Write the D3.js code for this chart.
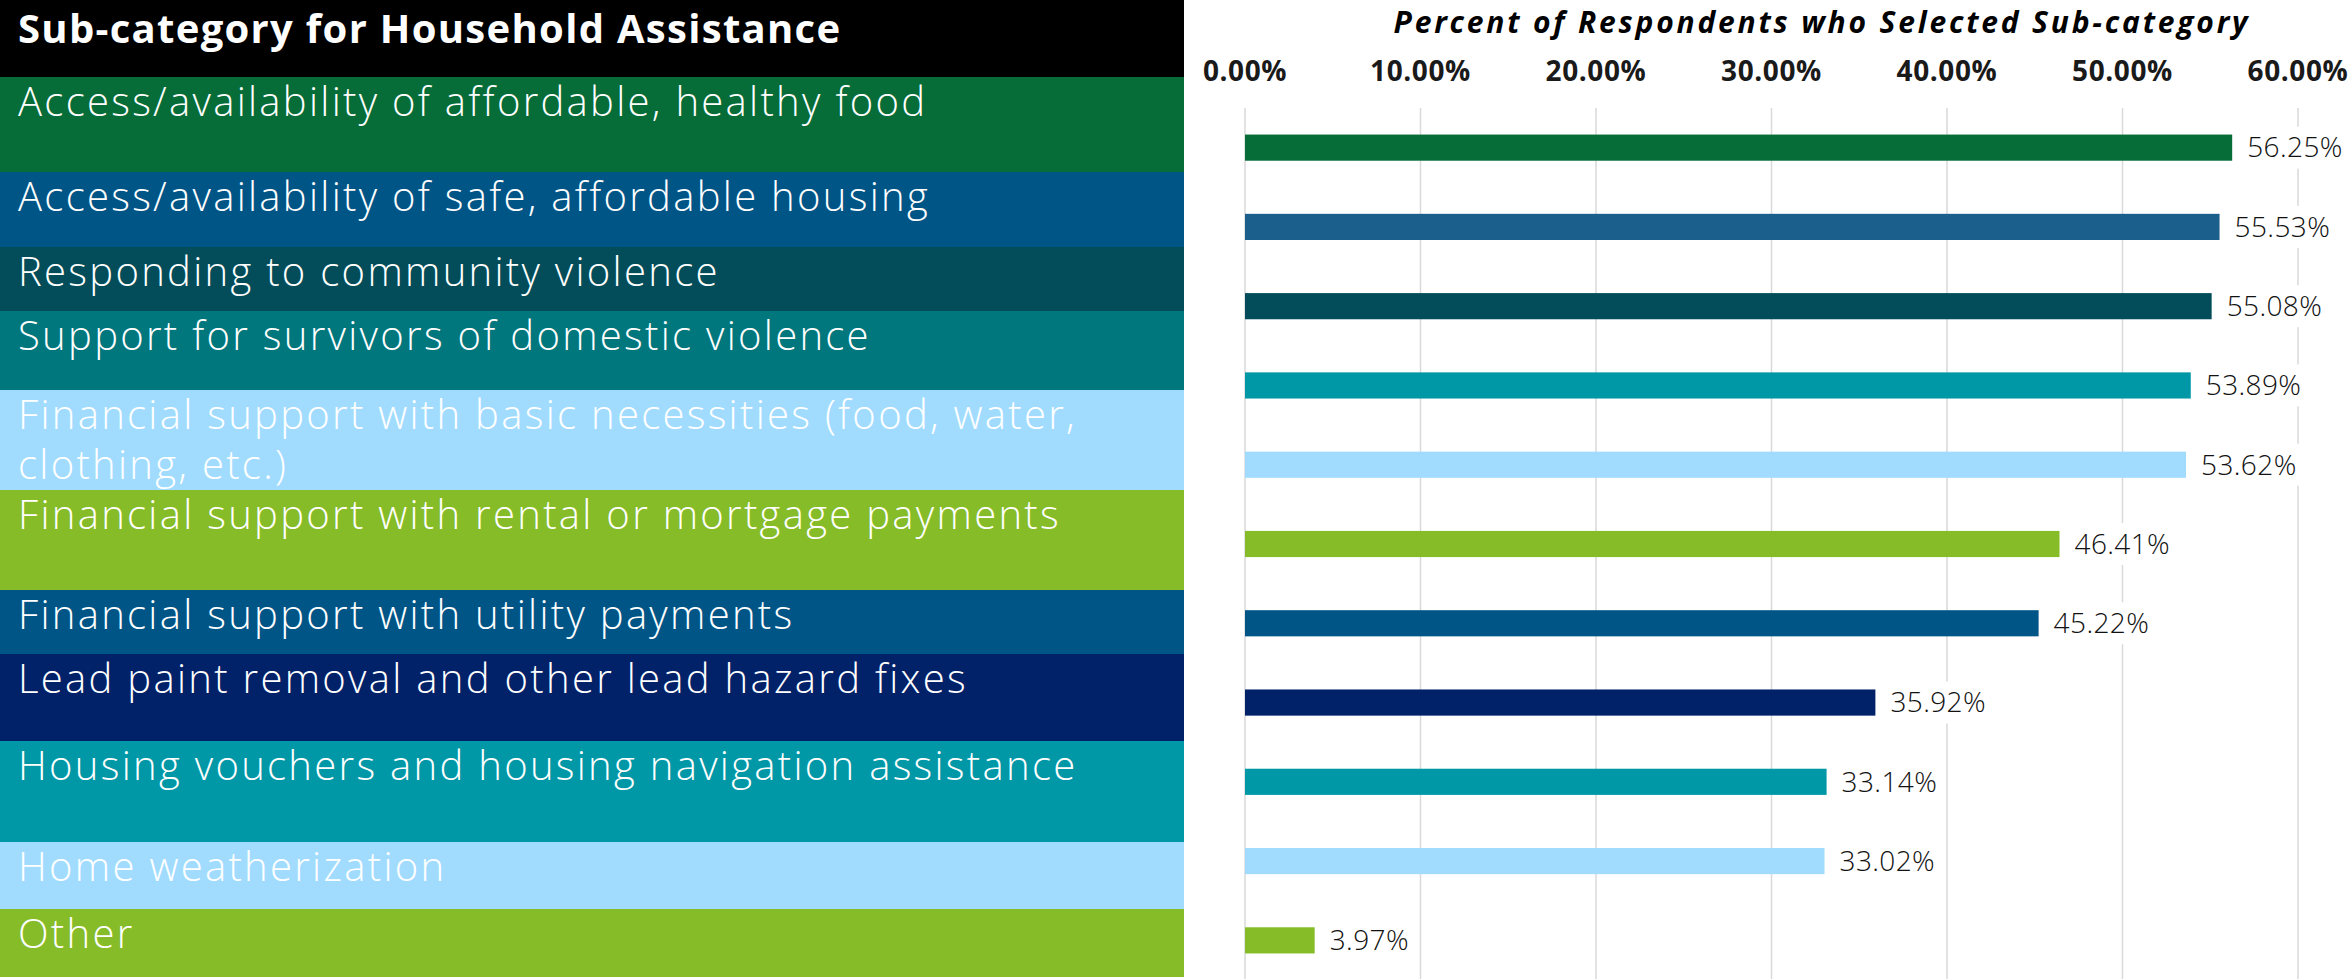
<!DOCTYPE html>
<html>
<head>
<meta charset="utf-8">
<script src="https://cdn.jsdelivr.net/npm/d3@7"></script>
<style>
  body { margin: 0; background: #fff; }
  svg { display: block; }
  .row-label { font-family: "Open Sans", Lato, sans-serif; font-weight: 300; fill: #fff; letter-spacing: 2.3px; }
  .head { font-family: "Open Sans", sans-serif; font-weight: 700; fill: #fff; letter-spacing: 1.3px; }
  .axis-title { font-family: "Open Sans", sans-serif; font-weight: 700; font-style: italic; fill: #000; letter-spacing: 2.8px; }
  .tick-label { font-family: "Open Sans", sans-serif; font-weight: 700; fill: #1a1a1a; letter-spacing: 0.6px; }
  .value-label { font-family: "Open Sans", Lato, sans-serif; font-weight: 300; fill: #111; letter-spacing: 0.4px; }
</style>
</head>
<body>
<div id="chart"></div>
<script>
// data
const categories = [
  'Access/availability of affordable, healthy food',
  'Access/availability of safe, affordable housing',
  'Responding to community violence',
  'Support for survivors of domestic violence',
  'Financial support with basic necessities (food, water,|clothing, etc.)',
  'Financial support with rental or mortgage payments',
  'Financial support with utility payments',
  'Lead paint removal and other lead hazard fixes',
  'Housing vouchers and housing navigation assistance',
  'Home weatherization',
  'Other'
];
const percents = [56.25, 55.53, 55.08, 53.89, 53.62, 46.41, 45.22, 35.92, 33.14, 33.02, 3.97];
const xTicks = [0, 10, 20, 30, 40, 50, 60];
const rowColors = ['#066c38', '#005587', '#024d59', '#00767d', '#a1dcff', '#86bc27',
  '#005587', '#012169', '#0097a7', '#a1dcff', '#86bc27'];
const barColors = ['#066c38', '#1b5f8c', '#024d59', '#0097a7', '#a1dcff', '#86bc27',
  '#005587', '#012169', '#0097a7', '#a1dcff', '#86bc27'];
const headerText = 'Sub-category for Household Assistance';
const axisTitle = 'Percent of Respondents who Selected Sub-category';

// layout
const W = 2351, H = 979;
const panelW = 1184;
const headerH = 77;
const rowHeights = [95, 75, 64, 79, 100, 100, 64, 87, 101, 67, 68];

const svg = d3.select('#chart').append('svg')
  .attr('width', W)
  .attr('height', H);

// left table
const table = svg.append('g');
table.append('rect')
  .attr('x', 0).attr('y', 0)
  .attr('width', panelW).attr('height', headerH)
  .attr('fill', '#000');
table.append('text')
  .attr('class', 'head')
  .attr('x', 18).attr('y', 43)
  .attr('font-size', 40)
  .text(headerText);

const rowTops = [];
let acc = headerH;
rowHeights.forEach(h => { rowTops.push(acc); acc += h; });

const rows = table.selectAll('.row')
  .data(categories)
  .join('g')
    .attr('class', 'row')
    .attr('transform', (d, i) => `translate(0,${rowTops[i]})`);

rows.append('rect')
  .attr('width', panelW)
  .attr('height', (d, i) => rowHeights[i])
  .attr('fill', (d, i) => rowColors[i]);

rows.append('text')
  .attr('class', 'row-label')
  .attr('font-size', 40)
  .selectAll('tspan')
  .data(d => d.split('|'))
  .join('tspan')
    .attr('x', 18)
    .attr('y', (d, j) => 39 + j * 50)
    .text(d => d);

// bar chart
const xScale = d3.scaleLinear()
  .domain([0, 60])
  .range([1245, 2298]);
const yScale = d3.scaleBand()
  .domain(categories)
  .range([108, 980])
  .paddingInner(0.67)
  .paddingOuter(0.335);

const chart = svg.append('g');

chart.append('text')
  .attr('class', 'axis-title')
  .attr('x', 1822).attr('y', 33)
  .attr('text-anchor', 'middle')
  .attr('font-size', 30)
  .text(axisTitle);

chart.selectAll('.grid')
  .data(xTicks)
  .join('line')
    .attr('class', 'grid')
    .attr('x1', d => xScale(d)).attr('x2', d => xScale(d))
    .attr('y1', 108).attr('y2', H)
    .attr('stroke', '#d9d9d9')
    .attr('stroke-width', 1.5);

chart.selectAll('.tick-label')
  .data(xTicks)
  .join('text')
    .attr('class', 'tick-label')
    .attr('x', d => xScale(d))
    .attr('y', 81)
    .attr('text-anchor', 'middle')
    .attr('font-size', 28)
    .text(d => d3.format('.2%')(d / 100));

chart.selectAll('.bar')
  .data(percents)
  .join('rect')
    .attr('class', 'bar')
    .attr('x', xScale(0))
    .attr('y', (d, i) => yScale(categories[i]))
    .attr('width', d => xScale(d) - xScale(0))
    .attr('height', yScale.bandwidth())
    .attr('fill', (d, i) => barColors[i]);

const labels = chart.selectAll('.value')
  .data(percents)
  .join('g')
    .attr('class', 'value')
    .attr('transform', (d, i) =>
      `translate(${xScale(d) + 15},${yScale(categories[i]) + yScale.bandwidth() / 2})`);

labels.append('text')
  .attr('class', 'value-label')
  .attr('dy', '0.35em')
  .attr('font-size', 28)
  .text(d => d3.format('.2f')(d) + '%');

labels.each(function () {
  const g = d3.select(this);
  const bb = g.select('text').node().getBBox();
  g.insert('rect', 'text')
    .attr('x', bb.x - 6)
    .attr('y', -21)
    .attr('width', bb.width + 12)
    .attr('height', 42)
    .attr('fill', '#fff');
});
</script>
</body>
</html>
